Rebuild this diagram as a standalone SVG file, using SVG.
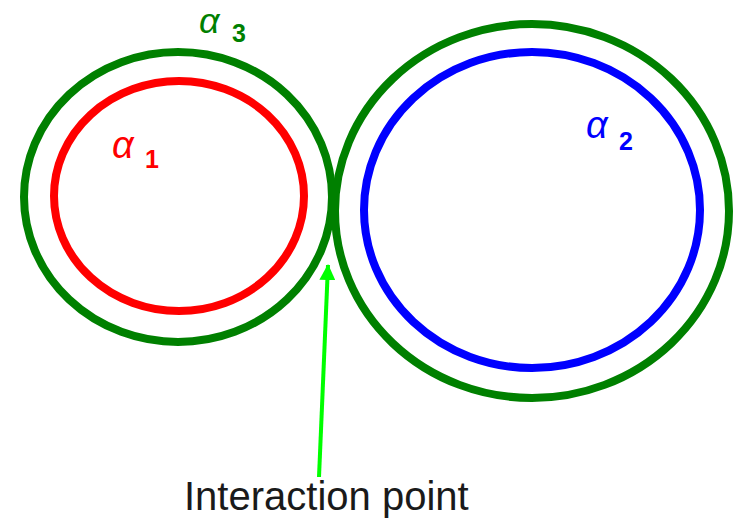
<svg xmlns="http://www.w3.org/2000/svg" width="740" height="519" viewBox="0 0 740 519">
<defs>
<style>
.ring{fill:none;stroke-width:8}
.g{stroke:#008000}
.r{stroke:#ff0000}
.b{stroke:#0000ff}
.alpha{font-family:"Liberation Sans","DejaVu Sans",sans-serif;font-style:italic;font-size:38px}
.a3{font-size:36px}
.sub{font-family:"Liberation Sans","DejaVu Sans",sans-serif;font-weight:bold;font-size:25px}
.lbl{font-family:"Liberation Sans",Arial,sans-serif;font-size:40px;fill:#1a1a1a}
</style>
<marker id="ah" markerWidth="16" markerHeight="16" viewBox="0 0 16 16" refX="15" refY="8" orient="auto" markerUnits="userSpaceOnUse">
<path d="M0,0 L16,8 L0,16 Z" fill="#00ff00"/>
</marker>
</defs>
<rect width="740" height="519" fill="#ffffff"/>
<g id="alpha3">
<ellipse class="ring g" cx="178" cy="197" rx="154" ry="145"/>
<text class="alpha a3" x="199" y="33" fill="#008000">α</text>
<text class="sub" x="232" y="42" fill="#008000">3</text>
</g>
<g id="alpha1">
<ellipse class="ring r" cx="179" cy="196" rx="125" ry="115"/>
<text class="alpha" x="112" y="158" fill="#ff0000">α</text>
<text class="sub" x="145" y="168" fill="#ff0000">1</text>
</g>
<g id="alpha3-right">
<ellipse class="ring g" cx="532" cy="211" rx="197" ry="187"/>
</g>
<g id="alpha2">
<ellipse class="ring b" cx="532" cy="210" rx="168" ry="158"/>
<text class="alpha" x="586" y="138" fill="#0000ff">α</text>
<text class="sub" x="619" y="150" fill="#0000ff">2</text>
</g>
<g id="connectors">
<line x1="319" y1="477" x2="328" y2="265" stroke="#00ff00" stroke-width="4" marker-end="url(#ah)"/>
</g>
<g id="label">
<text class="lbl" x="184" y="510">Interaction point</text>
</g>
</svg>
